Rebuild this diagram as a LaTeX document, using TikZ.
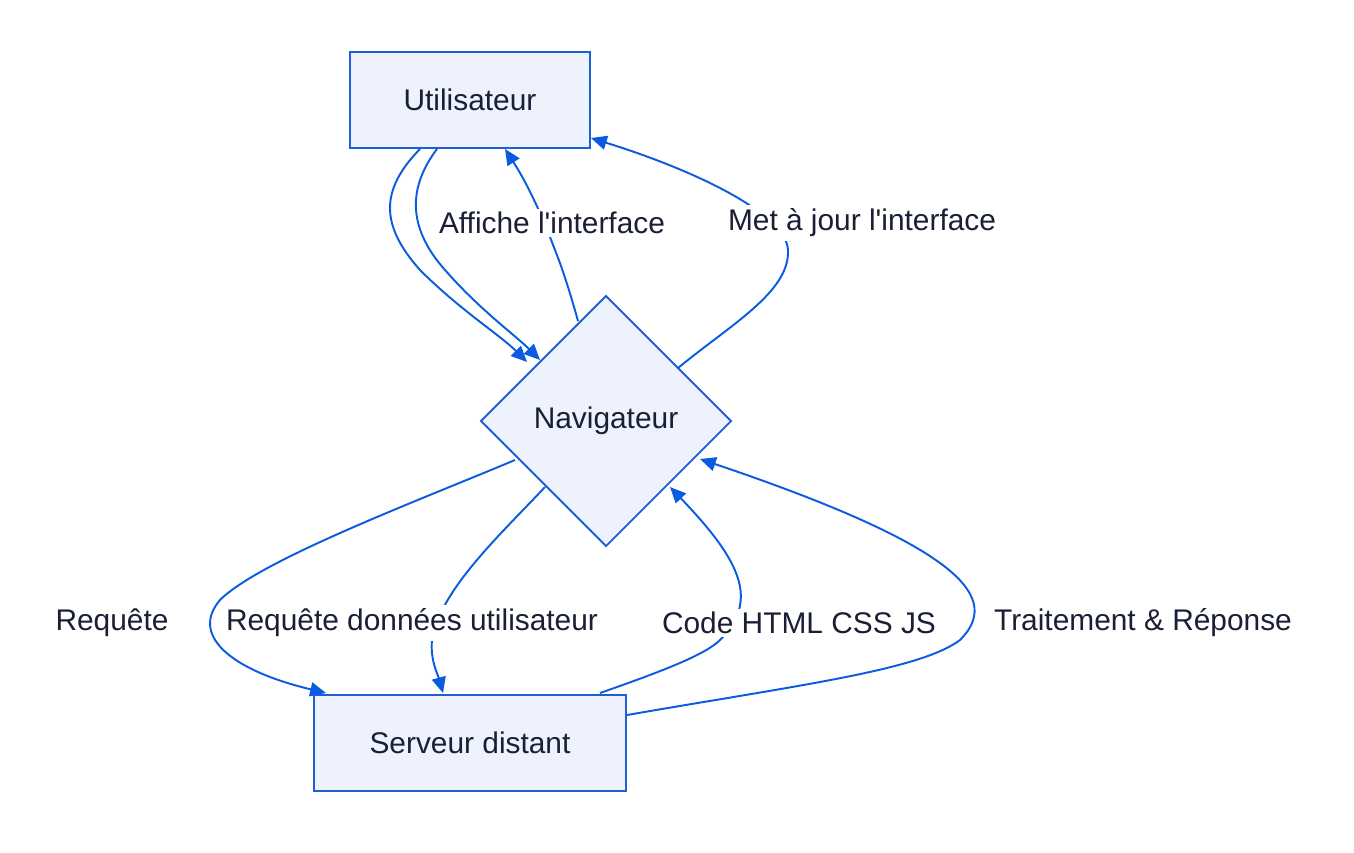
\documentclass[tikz,border=0pt]{standalone}
\usepackage{fontspec}
\setmainfont{Liberation Sans}
\usepackage{tikz}
\usetikzlibrary{shapes.geometric,arrows.meta}
\definecolor{boxfill}{HTML}{EEF2FD}
\definecolor{boxline}{HTML}{1F5FD6}
\definecolor{edgeblue}{HTML}{0A5BE0}
\definecolor{txt}{HTML}{1A1F36}

\tikzset{
  box/.style={draw=boxline, fill=boxfill, line width=1.1pt, text=txt, font=\fontsize{17}{20}\selectfont},
  flow/.style={draw=edgeblue, line width=1.1pt, -{Triangle[length=9pt,width=8pt]}},
  lbl/.style={fill=white, text=txt, inner sep=2pt, font=\fontsize{17}{20}\selectfont},
}

\begin{document}
\begin{tikzpicture}[x=0.02cm,y=-0.02cm]
\useasboundingbox (0,0) rectangle (1354,852);

\node[box, rectangle, minimum width=240*0.02cm, minimum height=96*0.02cm] (user) at (470,100) {Utilisateur};
\node[box, diamond, minimum width=251*0.02cm, minimum height=251*0.02cm, inner sep=0pt] (nav) at (606,421) {Navigateur};
\node[box, rectangle, minimum width=312*0.02cm, minimum height=96*0.02cm] (srv) at (470,743) {Serveur distant};

% user to browser
\draw[flow] ([xshift=-50*0.02cm]user.south) .. controls (380,190) and (380,225) .. (420,270)
  .. controls (460,310) and (500,335) .. (527,362);
\draw[flow] ([xshift=-33*0.02cm]user.south) .. controls (410,185) and (405,225) .. (445,270)
  .. controls (480,310) and (515,335) .. (540,360);
% browser to user
\draw[flow] (578,321) .. controls (568,285) and (560,262) .. (553,245)
  .. controls (540,210) and (525,180) .. ([xshift=35*0.02cm]user.south);
\draw[flow] (678,368) .. controls (730,325) and (790,292) .. (788,250)
  .. controls (786,215) and (700,172) .. (user.east |- 0,138);
% browser to server
\draw[flow] (515,460) .. controls (420,500) and (260,560) .. (220,600)
  .. controls (190,635) and (230,670) .. (326,693);
\draw[flow] (545,487) .. controls (500,535) and (440,590) .. (432,640)
  .. controls (430,660) and (438,675) .. (443,693);
% server to browser
\draw[flow] (600,693) .. controls (660,672) and (705,655) .. (720,640)
  .. controls (760,600) and (740,560) .. (670,487);
\draw[flow] (srv.east |- 0,715) .. controls (800,685) and (920,670) .. (960,640)
  .. controls (1000,600) and (970,550) .. (700,459);

\node[lbl] (l1) at (552,223) {Affiche l\textquotesingle interface};
\node[lbl] (l2) at (862,223) {Met à jour l\textquotesingle interface};
\node[lbl] (l3) at (112,623) {Requête};
\node[lbl] (l4) at (412,623) {Requête données utilisateur};
\node[lbl] (l5) at (799,623) {Code HTML CSS JS};
\node[lbl] (l6) at (1143,623) {Traitement \& Réponse};
\end{tikzpicture}
\end{document}
